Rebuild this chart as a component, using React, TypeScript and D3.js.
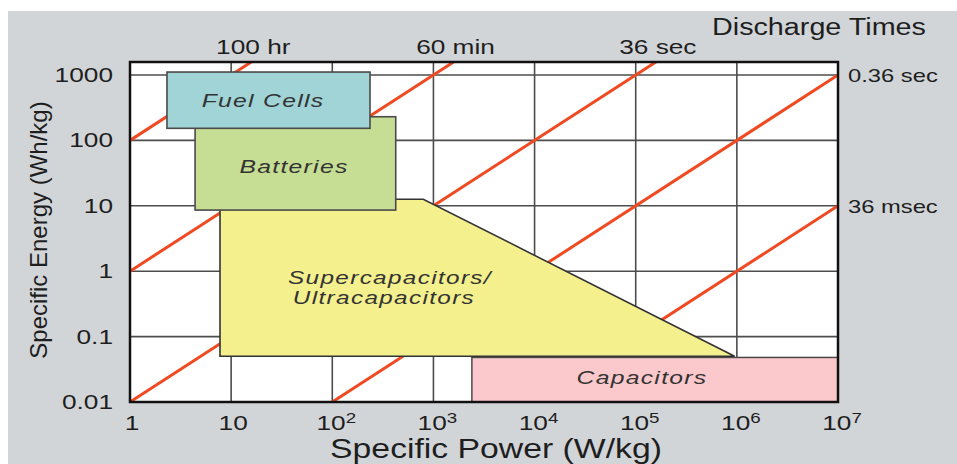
import * as d3 from "d3";

const powerTicks = [1, 10, 1e2, 1e3, 1e4, 1e5, 1e6, 1e7];
const energyTicks = [0.01, 0.1, 1, 10, 100, 1000];
const energyTickLabels = ["0.01", "0.1", "1", "10", "100", "1000"];

// constant discharge time lines: E = ratio * P  (ratio in hours)
const dischargeRatios = [100, 1, 0.01, 1e-4, 1e-6];
const dischargeLabels = ["100 hr", "60 min", "36 sec", "0.36 sec", "36 msec"];
const dischargeLabelSide = ["top", "top", "top", "right", "right"];

const fuelCells = { p: [2.32, 236], e: [153, 1110] };
const batteries = { p: [4.4, 424], e: [8.6, 230] };
const capacitors = { p: [2400, 1e7], e: [0.01, 0.048] };
const supercapPoints: [number, number][] = [
  [7.76, 12.6],
  [794, 12.6],
  [9.5e5, 0.05],
  [7.76, 0.05],
];

const W = 957;
const H = 464;
const SX = 1.25; // the source picture is stretched horizontally
const font = "'Liberation Sans', Arial, Helvetica, sans-serif";

function T({ x, y, size, anchor = "start", sx = SX, italic = false, ls = 0, fill = "#1e1e1e", children }: any) {
  return (
    <text
      transform={`translate(${x},${y}) scale(${sx},1)`}
      fontSize={size}
      textAnchor={anchor}
      fontStyle={italic ? "italic" : "normal"}
      letterSpacing={ls}
      fill={fill}
    >
      {children}
    </text>
  );
}

export default function App() {
  const x = d3.scaleLog().domain([1, 1e7]).range([130, 838]);
  const y = d3.scaleLog().domain([0.01, 1000]).range([402, 75]);
  const top = 62;
  const eTop = y.invert(top);
  const [x0, x1] = x.range();
  const y0 = y.range()[0];

  const line = d3
    .line<[number, number]>()
    .x((d) => x(d[0]))
    .y((d) => y(d[1]));

  const rect = (r: { p: number[]; e: number[] }) => ({
    x: x(r.p[0]),
    y: y(r.e[1]),
    width: x(r.p[1]) - x(r.p[0]),
    height: y(r.e[0]) - y(r.e[1]),
  });

  const boxStroke = "#4a4a4a";

  return (
    <svg
      width={W}
      height={H}
      style={{ position: "absolute", left: 0, top: 0, display: "block" }}
      fontFamily={font}
    >
      <rect x={0} y={0} width={W} height={H} fill="#fff" />
      <rect x={8} y={11} width={W - 8} height={H - 11} fill="#d2d5d8" />
      <defs>
        <clipPath id="plot">
          <rect x={x0} y={top} width={x1 - x0} height={y0 - top} />
        </clipPath>
      </defs>
      <rect x={x0} y={top} width={x1 - x0} height={y0 - top} fill="#fff" />

      {/* grid */}
      {powerTicks.slice(1, -1).map((p) => (
        <line key={"v" + p} x1={x(p)} x2={x(p)} y1={top} y2={y0} stroke="#4d4d4d" strokeWidth={1.6} />
      ))}
      {energyTicks.slice(1).map((e) => (
        <line key={"h" + e} x1={x0} x2={x1} y1={y(e)} y2={y(e)} stroke="#4d4d4d" strokeWidth={1.6} />
      ))}

      {/* discharge time lines */}
      <g clipPath="url(#plot)">
        {dischargeRatios.map((k) => {
          const pA = Math.max(1, 0.01 / k);
          const pB = Math.min(1e7, eTop / k);
          return (
            <path
              key={k}
              d={line([
                [pA, pA * k],
                [pB, pB * k],
              ]) as string}
              stroke="#f04a22"
              strokeWidth={3}
              fill="none"
            />
          );
        })}
      </g>

      {/* regions */}
      <rect {...rect(capacitors)} fill="#fbc8cc" stroke={boxStroke} strokeWidth={1.5} />
      <path d={(line(supercapPoints) as string) + "Z"} fill="#f5f08e" stroke="#333" strokeWidth={1.6} />
      <rect {...rect(batteries)} fill="#c5de93" stroke={boxStroke} strokeWidth={1.6} />
      <rect {...rect(fuelCells)} fill="#a0d4d6" stroke={boxStroke} strokeWidth={1.6} />

      <T x={263} y={107} size={19} anchor="middle" italic ls={1} sx={1.3} fill="#333">Fuel Cells</T>
      <T x={294} y={173} size={19} anchor="middle" italic ls={1} sx={1.3} fill="#333">Batteries</T>
      <T x={390} y={284} size={18} anchor="middle" italic ls={1} sx={1.35} fill="#333">Supercapacitors/</T>
      <T x={384} y={304} size={18} anchor="middle" italic ls={1} sx={1.35} fill="#333">Ultracapacitors</T>
      <T x={642} y={384} size={19} anchor="middle" italic ls={1} sx={1.3} fill="#333">Capacitors</T>

      {/* plot frame */}
      <rect x={x0} y={top} width={x1 - x0} height={y0 - top} fill="none" stroke="#111" strokeWidth={2.5} />

      {/* y ticks */}
      {energyTicks.map((e, i) => (
        <T key={e} x={113} y={y(e) + 7} size={21} anchor="end">
          {energyTickLabels[i]}
        </T>
      ))}
      {/* x ticks */}
      {powerTicks.map((p, i) => (
        <T key={p} x={x(p) + (i > 1 ? 4 : 2)} y={430} size={21} anchor="middle">
          {i < 2 ? String(p) : "10"}
          {i >= 2 && (
            <tspan dy={-7} fontSize={15}>
              {i}
            </tspan>
          )}
        </T>
      ))}

      {/* discharge labels */}
      {dischargeRatios.map((k, i) =>
        dischargeLabelSide[i] === "top" ? (
          <T key={k} x={x(eTop / k) + 2} y={54} size={21} anchor="middle">
            {dischargeLabels[i]}
          </T>
        ) : (
          <T key={k} x={848} y={y(k * 1e7) + 7} size={19}>
            {dischargeLabels[i]}
          </T>
        )
      )}
      <T x={712} y={35} size={23}>Discharge Times</T>

      {/* axis titles */}
      <T x={496} y={458} size={27} anchor="middle">Specific Power (W/kg)</T>
      <text
        transform="translate(47,230) rotate(-90)"
        fontSize={24}
        textAnchor="middle"
        fill="#1e1e1e"
      >
        Specific Energy (Wh/kg)
      </text>
    </svg>
  );
}
